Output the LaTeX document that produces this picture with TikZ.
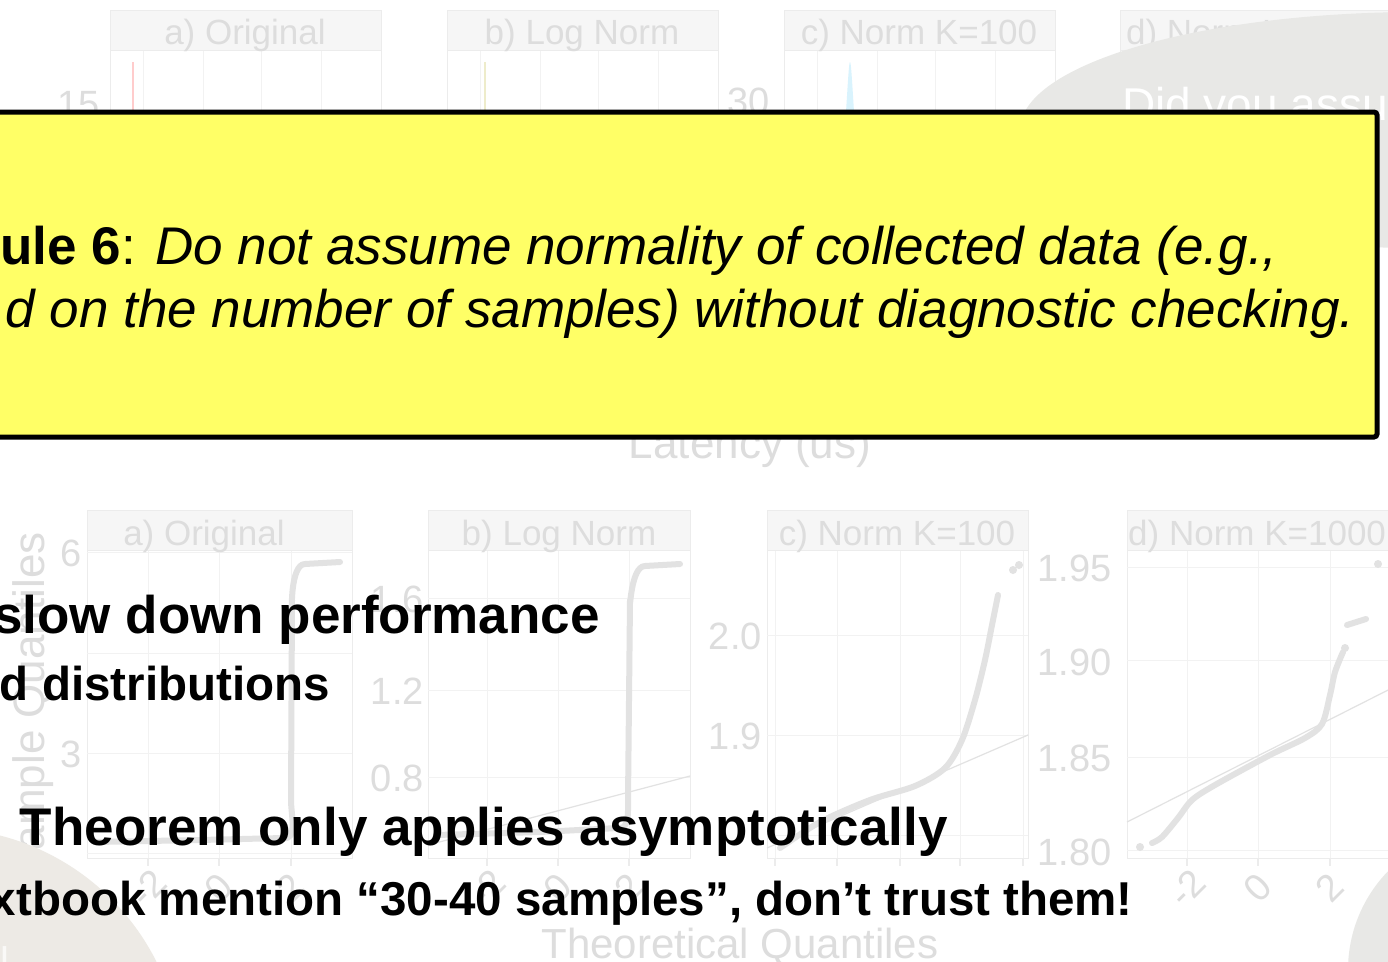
\documentclass[tikz,border=0pt]{standalone}
\usepackage{fontspec}
\setmainfont{Liberation Sans}
\definecolor{fadetxt}{HTML}{DDDDDD}
\definecolor{fadestrip}{HTML}{F6F6F6}
\definecolor{fadeedge}{HTML}{ECECEC}
\definecolor{fadegrid}{HTML}{F2F2F2}
\definecolor{fadept}{HTML}{E2E2E2}
\definecolor{bubble}{HTML}{E8E8E6}
\definecolor{beige}{HTML}{EDEAE5}
\definecolor{rulebox}{HTML}{FFFF66}
\newcommand{\fsz}[1]{\fontsize{#1pt}{#1pt}\selectfont}
\tikzset{
  bgtxt/.style={text=fadetxt, inner sep=0, font=\fsz{38}},
  striptxt/.style={text=fadetxt, inner sep=0, font=\fsz{35}, anchor=base},
  strip/.style={fill=fadestrip, draw=fadeedge, line width=1},
  plotarea/.style={draw=fadeedge, line width=1, fill=white},
  gridln/.style={draw=fadegrid, line width=1},
  qq/.style={draw=fadept, line width=6, line cap=round, line join=round},
  refln/.style={draw=fadept, line width=1.2},
  bigline/.style={inner sep=0, anchor=base east, font=\bfseries\fsz{53}},
  subline/.style={inner sep=0, anchor=base east, font=\bfseries\fsz{47.5}},
  ruletxt/.style={inner sep=0, anchor=base east, font=\fsz{53}},
}
\begin{document}
\begin{tikzpicture}[x=1pt,y=-1pt]
\useasboundingbox (0,0) rectangle (1388,961);
\clip (0,0) rectangle (1388,961);
\fill[white] (0,0) rectangle (1388,961);

% ---------- top row (density plots, faded) ----------
\foreach \xa/\lab in {110/a) Original, 447/b) Log Norm, 784/c) Norm K=100, 1120/d) Norm K=1000}{
  \draw[plotarea] (\xa,50) rectangle ++(271,80);
  \foreach \g in {33,93,151,211}{\draw[gridln] (\xa+\g,50) -- ++(0,80);}
  \draw[strip] (\xa,10) rectangle ++(271,40);
  \node[striptxt] at (\xa+135,44) {\lab};
}
\node[bgtxt, anchor=base east] (t15) at (100,117) {15};
\node[bgtxt, anchor=base east] (t30) at (770,114) {30};
\draw[draw=red!20, line width=1.5] (133,62) -- (133,112);
\draw[draw=yellow!50!gray!30, line width=1.5] (485,62) -- (485,112);
\fill[cyan!15] (846,112) .. controls (848,80) and (849,62) .. (850,62) .. controls (851,62) and (852,80) .. (854,112) -- cycle;

% grey bubble top right
\fill[bubble] (1420,130) ellipse [x radius=400, y radius=118];
\node[inner sep=0, anchor=base west, text=white, font=\fsz{46}] (did) at (1122,120) {Did you assume};

% ---------- bottom row (QQ plots, faded) ----------
% panel a
\draw[plotarea] (87,550) rectangle (352,858);
\foreach \g in {148,219,291}{\draw[gridln] (\g,550) -- (\g,858); \draw[fadeedge, line width=1.5] (\g,858) -- (\g,866);}
\foreach \h in {552,653,753,853}{\draw[gridln] (87,\h) -- (352,\h);}
\draw[strip] (87,510) rectangle (352,550);
\node[striptxt] at (204,545) {a) Original};
\draw[qq] (95,842) -- (200,840) -- (283,838) to[out=-10,in=-90] (291,800) -- (292,600) to[out=-90,in=180] (305,564) -- (340,562);
\node[bgtxt, anchor=base east] at (82,566) {6};
\node[bgtxt, anchor=base east] at (82,767) {3};
\node[bgtxt, rotate=90, font=\fsz{44}] (yt) at (33,706) {Sample Quantiles};
\foreach \g/\l in {148/-2,219/0,291/2}{\node[bgtxt, rotate=45] at (\g,888) {\l};}

% panel b
\draw[plotarea] (428,550) rectangle (690,858);
\foreach \g in {487,558,629}{\draw[gridln] (\g,550) -- (\g,858); \draw[fadeedge, line width=1.5] (\g,858) -- (\g,866);}
\foreach \h in {598,690,777}{\draw[gridln] (428,\h) -- (690,\h);}
\draw[strip] (428,510) rectangle (690,550);
\node[striptxt] at (559,545) {b) Log Norm};
\draw[refln] (428,845) -- (690,776);
\draw[qq] (436,835) -- (540,832) -- (618,828) to[out=-10,in=-90] (628,800) -- (630,600) to[out=-90,in=180] (645,566) -- (680,564);
\node[bgtxt, anchor=base east] at (424,612) {1.6};
\node[bgtxt, anchor=base east] at (424,704) {1.2};
\node[bgtxt, anchor=base east] at (424,791) {0.8};
\foreach \g/\l in {487/-2,558/0,629/2}{\node[bgtxt, rotate=45] at (\g,888) {\l};}

% panel c
\draw[plotarea] (767,550) rectangle (1028,858);
\foreach \g in {775,837,900,960,1023}{\draw[gridln] (\g,550) -- (\g,858); \draw[fadeedge, line width=1.5] (\g,858) -- (\g,866);}
\foreach \h in {635,735,835}{\draw[gridln] (767,\h) -- (1028,\h);}
\draw[strip] (767,510) rectangle (1028,550);
\node[striptxt] at (897,545) {c) Norm K=100};
\draw[refln] (767,848) -- (1028,735);
\draw[qq] plot[smooth] coordinates {(780,848) (820,822) (870,800) (915,786) (945,768) (962,740) (975,700) (985,660) (992,625) (998,595)};
\fill[fadept] (1013,570) circle [radius=4] (1019,565) circle [radius=4];
\node[bgtxt, anchor=base east] at (762,649) {2.0};
\node[bgtxt, anchor=base east] at (762,749) {1.9};

% panel d
\draw[plotarea] (1127,550) rectangle (1400,858);
\foreach \g in {1187,1258,1330}{\draw[gridln] (\g,550) -- (\g,858); \draw[fadeedge, line width=1.5] (\g,858) -- (\g,866);}
\foreach \h in {567,660,757,850}{\draw[gridln] (1127,\h) -- (1400,\h);}
\draw[strip] (1127,510) rectangle (1400,550);
\node[striptxt, anchor=base west] at (1128,545) {d) Norm K=1000};
\draw[refln] (1127,822) -- (1400,684);
\draw[qq] plot[smooth] coordinates {(1152,843) (1162,837) (1178,818) (1192,800) (1215,785) (1270,755) (1305,738) (1322,724) (1330,695) (1335,672) (1343,652)};
\draw[qq] (1347,625) -- (1366,619);
\fill[fadept] (1140,847) circle [radius=4] (1345,648) circle [radius=4] (1378,564) circle [radius=4];
\node[bgtxt, anchor=base east] at (1112,581) {1.95};
\node[bgtxt, anchor=base east] at (1112,675) {1.90};
\node[bgtxt, anchor=base east] at (1112,771) {1.85};
\node[bgtxt, anchor=base east] at (1112,865) {1.80};
\foreach \g/\l in {1187/-2,1258/0,1330/2}{\node[bgtxt, rotate=45] at (\g,888) {\l};}

\node[bgtxt, font=\fsz{42}, anchor=base] (xt) at (740,958) {Theoretical Quantiles};

% circles over the plots
\fill[beige] (-60,1070) circle [radius=242];
\fill[bubble] (1490,970) circle [radius=142];
\node[inner sep=0, anchor=base west, text=white!70!beige, font=\fsz{40}] (ll) at (0,975) {l};

% ---------- yellow rule box ----------
\node[bgtxt, font=\fsz{44}, anchor=base] (lat) at (750,458) {Latency (us)};
\draw[fill=rulebox, draw=black, line width=5, rounded corners=3] (-20,112) rectangle (1377,437);
\node[ruletxt] (rule1) at (1278,264) {\textbf{ule 6}: \textit{Do not assume normality of collected data (e.g.,}};
\node[ruletxt] (rule2) at (1355,327) {\textit{d on the number of samples) without diagnostic checking.}};

% ---------- bullet text ----------
\node[bigline] (l1) at (600,633) {slow down performance};
\node[subline] (l2) at (330,700) {d distributions};
\node[bigline] (l3) at (948,845) {: Theorem only applies asymptotically};
\node[subline] (l4) at (1133,915) {xtbook mention “30-40 samples”, don’t trust them!};
\end{tikzpicture}
\end{document}
